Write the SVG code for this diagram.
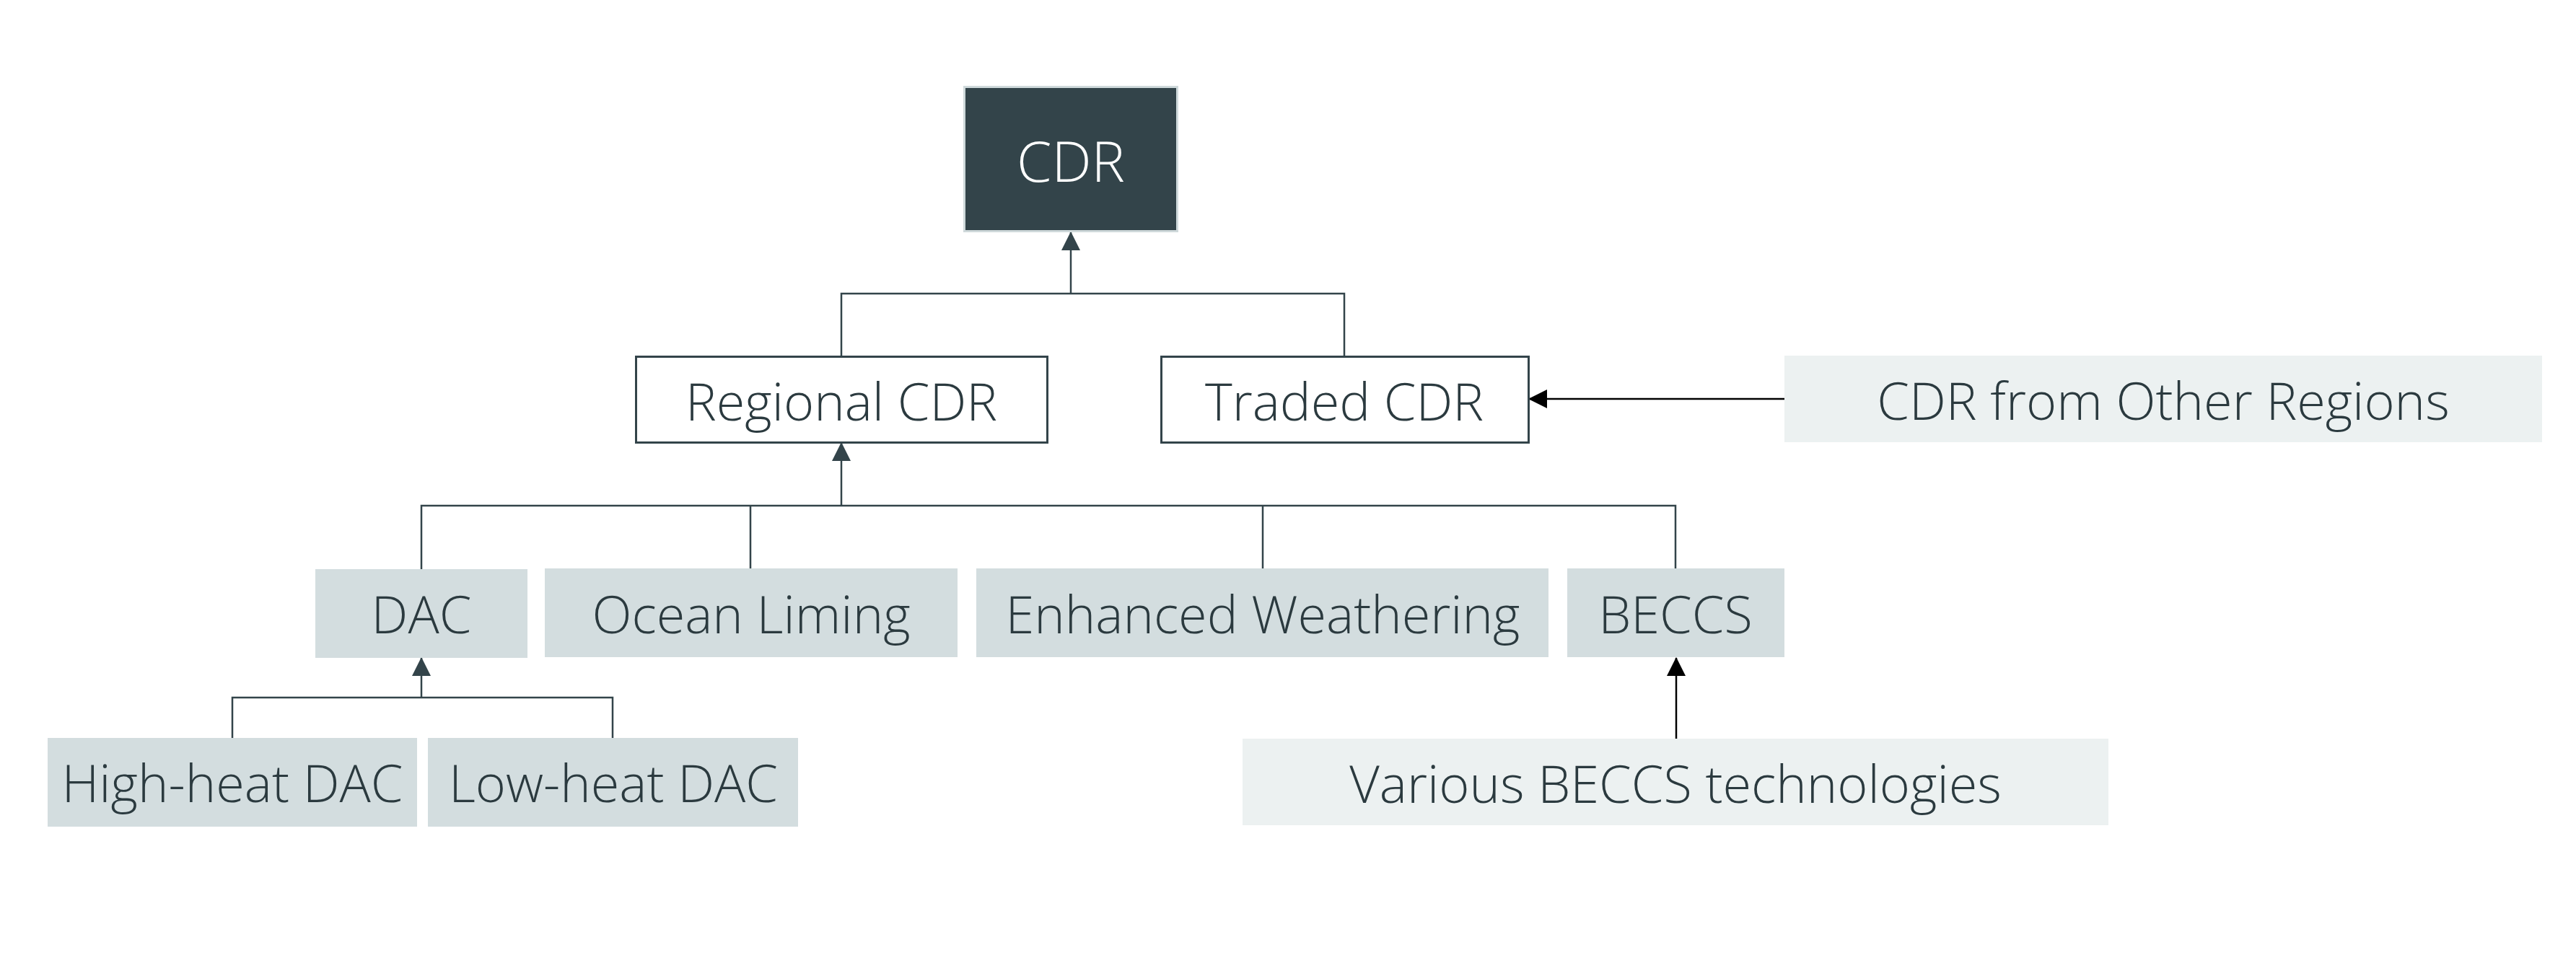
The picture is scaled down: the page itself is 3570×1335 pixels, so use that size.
<svg xmlns="http://www.w3.org/2000/svg" width="3570" height="1335" viewBox="0 0 3570 1335">
<defs>
<style>
.t{font-family:"Open Sans","Noto Sans","Liberation Sans",sans-serif;font-weight:300;font-size:72px;fill:#2b3a3f;text-anchor:middle}
.w{fill:#ffffff;font-size:78px}
.mid{fill:#d3dddf}
.lt{fill:#ecf1f1}
.out{fill:#ffffff;stroke:#33444a;stroke-width:3}
.c{fill:none;stroke:#33444a;stroke-width:2.5}
.k{fill:none;stroke:#000000;stroke-width:2.5}
</style>
<marker id="ad" markerUnits="userSpaceOnUse" markerWidth="26" markerHeight="26" viewBox="0 0 26 26" refX="25" refY="13" orient="auto"><path d="M0,0 L26,13 L0,26 z" fill="#33444a"/></marker>
<marker id="ak" markerUnits="userSpaceOnUse" markerWidth="26" markerHeight="26" viewBox="0 0 26 26" refX="25" refY="13" orient="auto"><path d="M0,0 L26,13 L0,26 z" fill="#000000"/></marker>
</defs>
<rect width="3570" height="1335" fill="#ffffff"/>
<g id="connectors">
<path class="c" d="M1166,493 V407 H1863 V493"/>
<path class="c" d="M1484,407 V322" marker-end="url(#ad)"/>
<path class="c" d="M584,789 V701 H2322 V789 M1040,701 V788 M1750,701 V788"/>
<path class="c" d="M1166,701 V614" marker-end="url(#ad)"/>
<path class="c" d="M322,1023 V967 H849 V1023"/>
<path class="c" d="M584,967 V912" marker-end="url(#ad)"/>
<path class="k" d="M2473,553 H2119" marker-end="url(#ak)"/>
<path class="k" d="M2323,1024 V912" marker-end="url(#ak)"/>
</g>
<g id="cdr">
<rect x="1336.5" y="120.5" width="295" height="200" fill="#33444a" stroke="#cfd9db" stroke-width="3"/>
<text class="t w" x="1484" y="252">CDR</text>
</g>
<g id="regional-cdr">
<rect class="out" x="881.5" y="494.5" width="570" height="119"/>
<text class="t" x="1166" y="583">Regional CDR</text>
</g>
<g id="traded-cdr">
<rect class="out" x="1609.5" y="494.5" width="509" height="119"/>
<text class="t" x="1863" y="583">Traded CDR</text>
</g>
<g id="cdr-other-regions">
<rect class="lt" x="2473" y="493" width="1050" height="120"/>
<text class="t" x="2998" y="582">CDR from Other Regions</text>
</g>
<g id="dac">
<rect class="mid" x="437" y="789" width="294" height="123"/>
<text class="t" x="584" y="878">DAC</text>
</g>
<g id="ocean-liming">
<rect class="mid" x="755" y="788" width="572" height="123"/>
<text class="t" x="1041" y="878">Ocean Liming</text>
</g>
<g id="enhanced-weathering">
<rect class="mid" x="1353" y="788" width="793" height="123"/>
<text class="t" x="1750" y="878">Enhanced Weathering</text>
</g>
<g id="beccs">
<rect class="mid" x="2172" y="788" width="301" height="123"/>
<text class="t" x="2322" y="878">BECCS</text>
</g>
<g id="high-heat-dac">
<rect class="mid" x="66" y="1023" width="512" height="123"/>
<text class="t" x="322" y="1112">High-heat DAC</text>
</g>
<g id="low-heat-dac">
<rect class="mid" x="593" y="1023" width="513" height="123"/>
<text class="t" x="850" y="1112">Low-heat DAC</text>
</g>
<g id="various-beccs">
<rect class="lt" x="1722" y="1024" width="1200" height="120"/>
<text class="t" x="2322" y="1113">Various BECCS technologies</text>
</g>
</svg>
